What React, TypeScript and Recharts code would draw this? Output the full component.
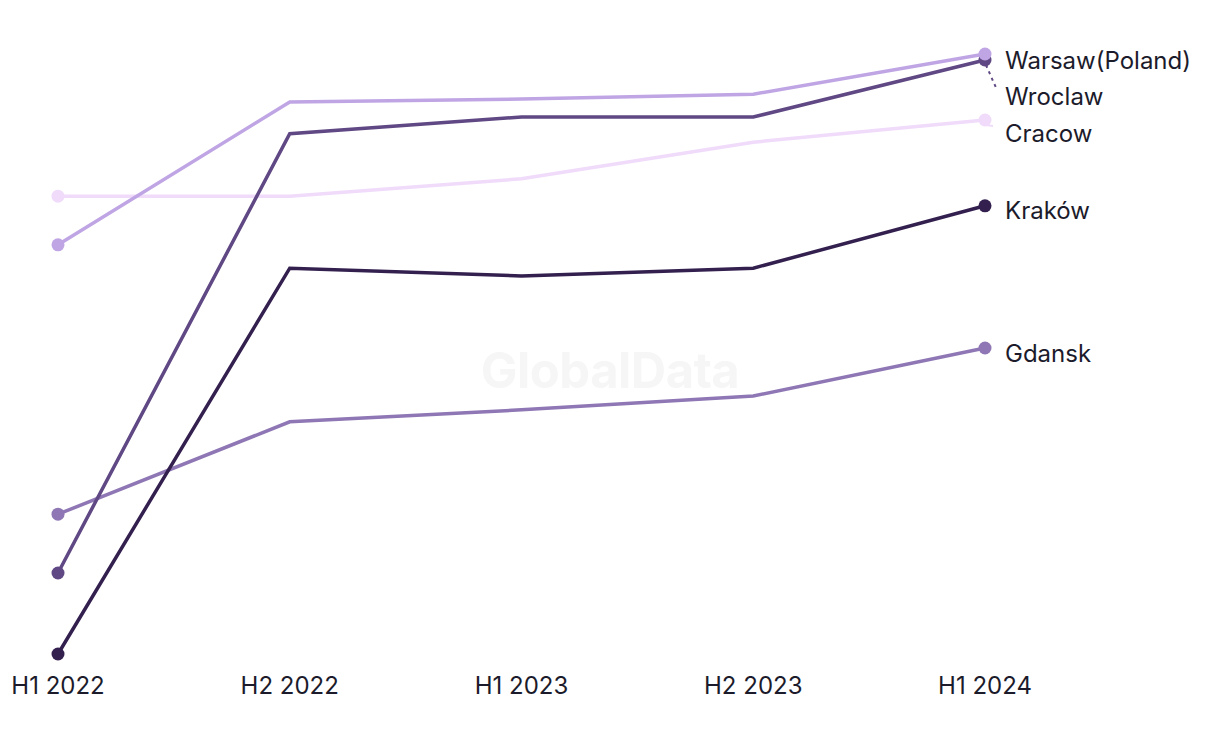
import { LineChart, Line, XAxis, YAxis } from 'recharts'

const periods = ['H1 2022', 'H2 2022', 'H1 2023', 'H2 2023', 'H1 2024']

const warsaw = [68.2, 92.0, 92.5, 93.3, 100.0]
const wroclaw = [13.5, 86.7, 89.5, 89.5, 99.0]
const cracow = [76.3, 76.3, 79.2, 85.3, 89.0]
const krakow = [0.0, 64.3, 63.0, 64.3, 74.7]
const gdansk = [23.3, 38.7, 40.7, 43.0, 51.0]

const data = periods.map((period, i) => ({
  period,
  warsaw: warsaw[i],
  wroclaw: wroclaw[i],
  cracow: cracow[i],
  krakow: krakow[i],
  gdansk: gdansk[i],
}))

const series = [
  { key: 'cracow', name: 'Cracow', color: '#f0dbfb' },
  { key: 'gdansk', name: 'Gdansk', color: '#8e77b4' },
  { key: 'krakow', name: 'Kraków', color: '#33204f' },
  { key: 'wroclaw', name: 'Wroclaw', color: '#5f4883' },
  { key: 'warsaw', name: 'Warsaw(Poland)', color: '#bfa5e4' },
]

// labels pushed down a bit where they would collide
const labelNudge: Record<string, number> = {
  warsaw: 6,
  wroclaw: 36,
  cracow: 13,
  krakow: 5,
  gdansk: 5,
}

const last = periods.length - 1
const font = 'Inter, "Noto Sans", sans-serif'

export default function App() {
  return (
    <div style={{ position: 'absolute', left: 0, top: 0, width: 1220, height: 744, background: '#fff', fontFamily: font }}>
      <div
        style={{
          position: 'absolute',
          left: 0,
          width: 1220,
          top: 341,
          textAlign: 'center',
          fontSize: 49,
          fontWeight: 700,
          color: '#f6f6f6',
          letterSpacing: -0.5,
        }}
      >
        GlobalData
      </div>
      <LineChart
        width={1220}
        height={744}
        data={data}
        margin={{ top: 54, right: 235, bottom: 60, left: 58 }}
        style={{ position: 'absolute', left: 0, top: 0 }}
      >
        <XAxis
          dataKey="period"
          axisLine={false}
          tickLine={false}
          height={30}
          tickMargin={17}
          interval={0}
          tick={{ fill: '#1c1b2b', fontSize: 24, fontFamily: font }}
        />
        <YAxis hide domain={[0, 100]} />
        {series.map((s) => (
          <Line
            key={s.key}
            dataKey={s.key}
            stroke={s.color}
            strokeWidth={3.5}
            isAnimationActive={false}
            dot={(p: any) =>
              p.index === 0 || p.index === last ? (
                <circle key={`${s.key}-d${p.index}`} cx={p.cx} cy={p.cy} r={6.5} fill={s.color} />
              ) : (
                <g key={`${s.key}-d${p.index}`} />
              )
            }
            label={(p: any) => {
              if (p.index !== last) return <g key={`${s.key}-l${p.index}`} />
              const nudge = labelNudge[s.key]
              return (
                <g key={`${s.key}-l${p.index}`}>
                  {nudge > 10 && (
                    <line
                      x1={p.x + 1}
                      y1={p.y + 5}
                      x2={p.x + (s.key === 'wroclaw' ? 12 : 8)}
                      y2={p.y + (s.key === 'wroclaw' ? 30 : 6)}
                      stroke={s.color}
                      strokeWidth={2}
                      strokeDasharray={s.key === 'wroclaw' ? '3 4' : undefined}
                    />
                  )}
                  <text
                    x={p.x + 20}
                    y={p.y + nudge}
                    dominantBaseline="central"
                    fill="#1c1b2b"
                    fontSize={24}
                    fontFamily={font}
                  >
                    {s.name}
                  </text>
                </g>
              )
            }}
          />
        ))}
      </LineChart>
    </div>
  )
}
